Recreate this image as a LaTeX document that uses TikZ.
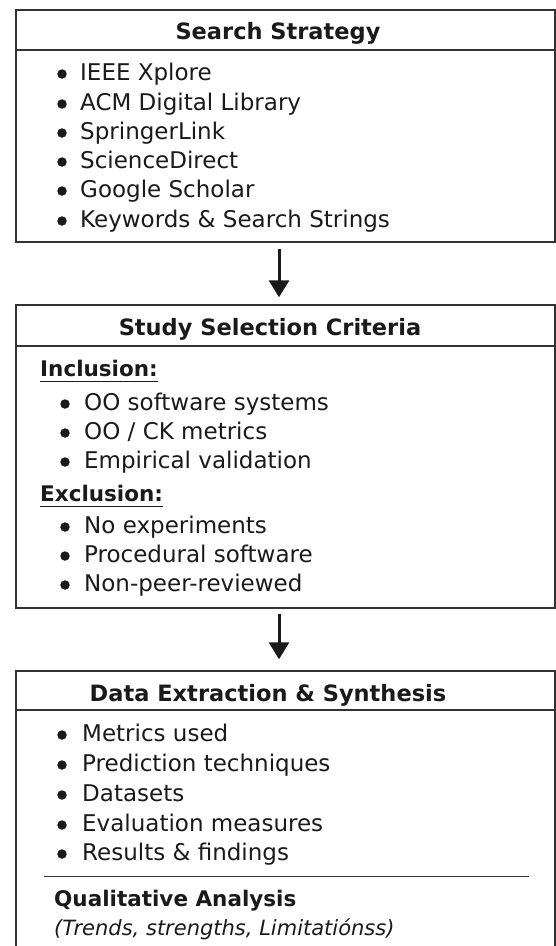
\documentclass[tikz,border=0pt]{standalone}
\usepackage{fontspec}
\setmainfont{DejaVu Sans}
\usetikzlibrary{arrows.meta}
\definecolor{ink}{HTML}{1A1A1A}
\definecolor{frame}{HTML}{333333}
\begin{document}
\begin{tikzpicture}[x=1pt,y=-1pt,
  box/.style={draw=frame,line width=1.4pt,rectangle,inner sep=0pt,minimum width=539pt},
  sepline/.style={draw=frame,line width=1.4pt},
  thinline/.style={draw=frame,line width=1pt},
  title/.style={font=\fontsize{22.5}{27}\selectfont\bfseries,text=ink,inner sep=0pt,text height=16.5pt,text depth=0pt},
  head/.style={font=\fontsize{21.5}{26}\selectfont\bfseries,text=ink,inner sep=0pt,text height=16pt,text depth=0pt,anchor=west},
  itemtext/.style={font=\fontsize{23}{27}\selectfont,text=ink,inner sep=0pt,text height=16.5pt,text depth=0pt,anchor=west},
  note/.style={font=\fontsize{21}{25}\selectfont\itshape,text=ink,inner sep=0pt,text height=15pt,text depth=0pt,anchor=west},
  dot/.style={circle,fill=ink,inner sep=0pt,minimum size=9.5pt},
  arr/.style={draw=ink,line width=3pt,-{Triangle[width=20pt,length=17pt]}}
]
\useasboundingbox (0,0) rectangle (556,946);
\fill[white] (0,0) rectangle (556,946);

% ---------- Box 1 ----------
\node[box,minimum height=232pt] (b1) at (285.5,126) {};
\draw[sepline] (16,50) -- (555,50);
\node[title] (t1) at (278,31) {Search Strategy};
\foreach \y/\txt [count=\i] in {72/{IEEE Xplore},102/{ACM Digital Library},131/{SpringerLink},160/{ScienceDirect},189/{Google Scholar},219/{Keywords \& Search Strings}}{
  \node[dot] (d1-\i) at (62,\y+2) {};
  \node[itemtext] (s1-\i) at (80,\y) {\txt};
}

% ---------- Box 2 ----------
\node[box,minimum height=303pt] (b2) at (285.5,456.5) {};
\draw[sepline] (16,346) -- (555,346);
\node[title] (t2) at (270,327) {Study Selection Criteria};
\node[head] (inc) at (40,368) {Inclusion:};
\draw[ink,line width=1pt] ([yshift=-5pt]inc.south west) -- ([yshift=-5pt]inc.south east);
\foreach \y/\txt [count=\i] in {402/{OO software systems},431/{OO / CK metrics},460/{Empirical validation}}{
  \node[dot] (d2-\i) at (65,\y+2) {};
  \node[itemtext] (s2-\i) at (84,\y) {\txt};
}
\node[head] (exc) at (40,493) {Exclusion:};
\draw[ink,line width=1pt] ([yshift=-5pt]exc.south west) -- ([yshift=-5pt]exc.south east);
\foreach \y/\txt [count=\i] in {525/{No experiments},554/{Procedural software},583/{Non-peer-reviewed}}{
  \node[dot] (d3-\i) at (65,\y+2) {};
  \node[itemtext] (s3-\i) at (84,\y) {\txt};
}

% ---------- Box 3 (runs off the bottom) ----------
\node[box,minimum height=300pt] (b3) at (285.5,821) {};
\draw[sepline] (16,710) -- (555,710);
\node[title] (t3) at (268,693) {Data Extraction \& Synthesis};
\foreach \y/\txt [count=\i] in {733/{Metrics used},763/{Prediction techniques},793/{Datasets},823/{Evaluation measures},852/{Results \& findings}}{
  \node[dot] (d4-\i) at (62,\y+2) {};
  \node[itemtext] (s4-\i) at (82,\y) {\txt};
}
\draw[thinline] (44,876) -- (529,876);
\node[head] (qa) at (54,898) {Qualitative Analysis};
\node[note] (qn) at (54,928) {(Trends, strengths, Limitatiónss)};

% ---------- Arrows ----------
\draw[arr] ([xshift=-6.5pt,yshift=-6pt]b1.south) -- ([xshift=-6.5pt,yshift=7pt]b2.north);
\draw[arr] ([xshift=-6.5pt,yshift=-5pt]b2.south) -- ([xshift=-6.5pt,yshift=11pt]b3.north);
\end{tikzpicture}
\end{document}
